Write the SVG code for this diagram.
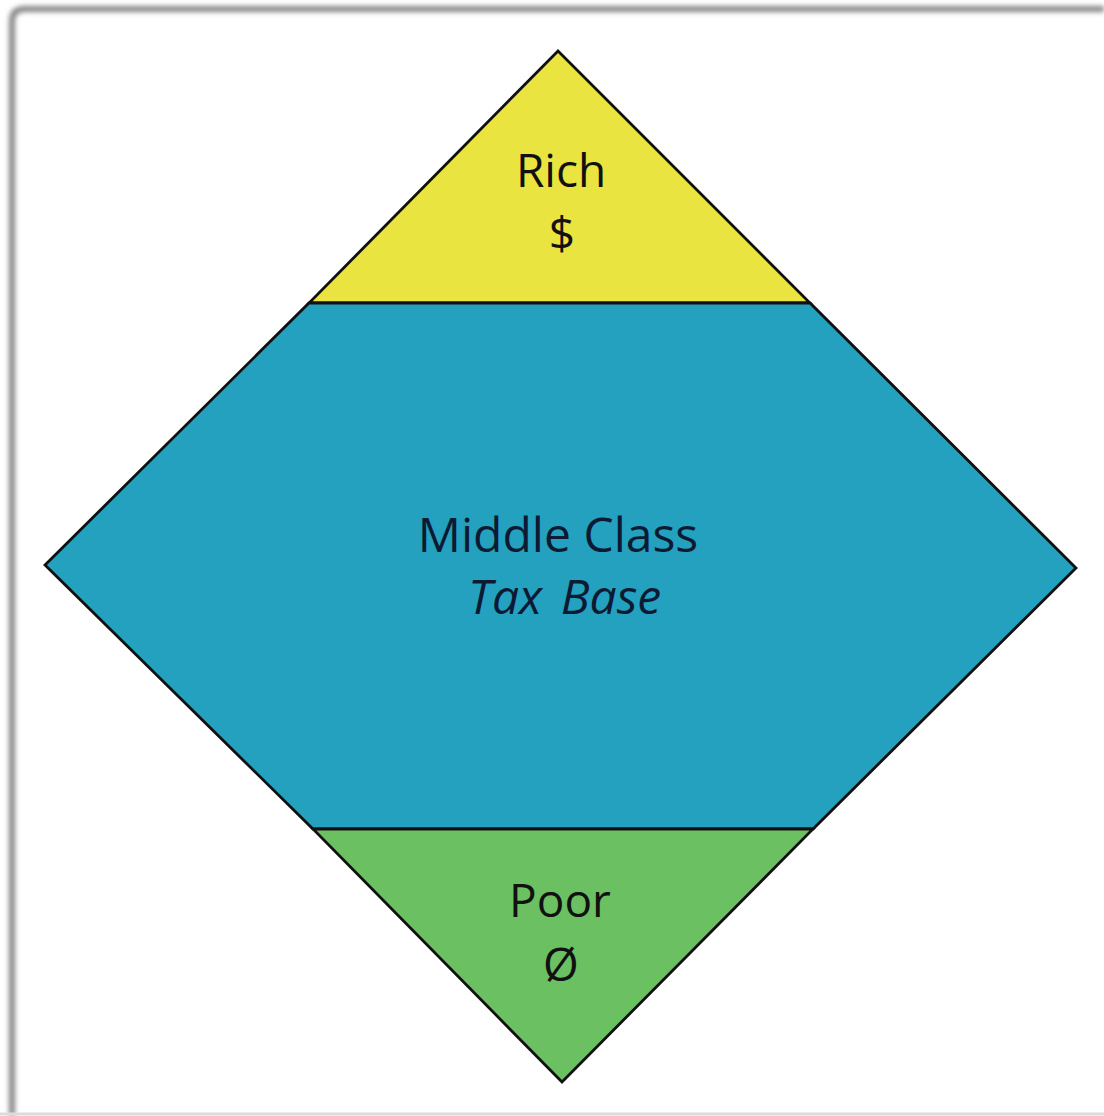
<svg xmlns="http://www.w3.org/2000/svg" width="1104" height="1116" viewBox="0 0 1104 1116">
<defs>
<filter id="blur" x="-5%" y="-5%" width="110%" height="110%"><feGaussianBlur stdDeviation="2.5"/></filter>
<style>
.edge{stroke:#111;stroke-width:2.8;stroke-linejoin:miter}
.lbl{font-family:"Open Sans","DejaVu Sans",sans-serif;font-size:46px;text-anchor:middle;fill:#111}
.mid{fill:#0d1a33;font-size:48px}
</style>
</defs>
<rect width="1104" height="1116" fill="#ffffff"/>
<g id="frame">
<path d="M12 1116 V21 Q12 9 25 9 H1104" fill="none" stroke="#858585" stroke-width="6" filter="url(#blur)"/>
<line x1="0" y1="1114" x2="1104" y2="1114" stroke="#dcdcdc" stroke-width="3"/>
</g>
<g id="rich">
<polygon class="edge" points="558,51 309,303 810,303" fill="#e9e43f"/>
<text class="lbl" x="561" y="187">Rich</text>
<text class="lbl" x="562" y="250" font-size="50">$</text>
</g>
<g id="middle">
<polygon class="edge" points="309,303 810,303 1076,568 813,829 313,829 45,565" fill="#23a1bf"/>
<text class="lbl mid" x="558" y="552">Middle Class</text>
<text class="lbl mid" x="565" y="614" font-style="italic" font-size="46"><tspan x="505">Tax</tspan><tspan x="611">Base</tspan></text>
</g>
<g id="poor">
<polygon class="edge" points="313,829 813,829 562,1082" fill="#6bc062"/>
<text class="lbl" x="560" y="917">Poor</text>
<text class="lbl" x="561" y="981">Ø</text>
</g>
<g id="connectors"></g>
</svg>
